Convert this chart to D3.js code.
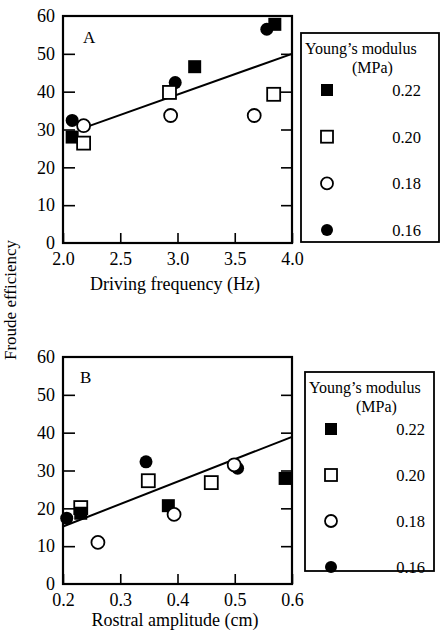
<!DOCTYPE html>
<html>
<head>
<meta charset="utf-8">
<script src="https://cdn.jsdelivr.net/npm/d3@7"></script>
<style>
  body { margin: 0; background: #fff; }
  svg { display: block; }
  svg text { font-family: "Liberation Serif", "Times New Roman", "DejaVu Serif", serif; }
</style>
</head>
<body>
<svg id="chart" width="442" height="632"></svg>
<script>
// Young's modulus groups (MPa) and their symbols
const moduli = ["0.22", "0.20", "0.18", "0.16"];
const symbols = ["filledSquare", "openSquare", "openCircle", "filledCircle"];

// Panel A: driving frequency (Hz) vs Froude efficiency
const freqA = {
  "0.22": [2.08, 3.15, 3.85],
  "0.20": [2.18, 2.93, 3.84],
  "0.18": [2.18, 2.94, 3.67],
  "0.16": [2.08, 2.98, 3.78]
};
const effA = {
  "0.22": [28.0, 46.6, 57.8],
  "0.20": [26.4, 39.8, 39.3],
  "0.18": [31.0, 33.7, 33.7],
  "0.16": [32.4, 42.4, 56.5]
};
const fitFreqA = [2.17, 4.0];
const fitEffA = [30.3, 50.0];

// Panel B: rostral amplitude (cm) vs Froude efficiency
const ampB = {
  "0.22": [0.231, 0.384, 0.588],
  "0.20": [0.231, 0.349, 0.459],
  "0.18": [0.261, 0.394, 0.499],
  "0.16": [0.2065, 0.345, 0.505]
};
const effB = {
  "0.22": [18.7, 20.7, 27.9],
  "0.20": [20.2, 27.3, 26.8],
  "0.18": [11.0, 18.4, 31.5],
  "0.16": [17.4, 32.3, 30.6]
};
const fitAmpB = [0.2, 0.6];
const fitEffB = [15.2, 38.9];

const ticksXA = [2.0, 2.5, 3.0, 3.5, 4.0];
const ticksXB = [0.2, 0.3, 0.4, 0.5, 0.6];
const ticksY = [0, 10, 20, 30, 40, 50, 60];

const svg = d3.select("#chart");

function drawSymbol(g, type, x, y, size) {
  const filled = type.startsWith("filled");
  if (type.endsWith("Square")) {
    g.append("rect")
      .attr("x", x - size / 2)
      .attr("y", y - size / 2)
      .attr("width", size)
      .attr("height", size)
      .attr("fill", filled ? "#000" : "#fff")
      .attr("stroke", "#000")
      .attr("stroke-width", filled ? 0 : 1.8);
  } else {
    g.append("circle")
      .attr("cx", x)
      .attr("cy", y)
      .attr("r", size / 2)
      .attr("fill", filled ? "#000" : "#fff")
      .attr("stroke", "#000")
      .attr("stroke-width", filled ? 0 : 1.8);
  }
}

function serif(sel, size) {
  sel.attr("font-family", "'Liberation Serif', 'Times New Roman', serif")
    .attr("font-size", size)
    .attr("fill", "#000");
}

function drawPanel(p) {
  const g = svg.append("g");
  const x = d3.scaleLinear().domain(p.xDomain).range([p.left, p.right]);
  const y = d3.scaleLinear().domain([0, 60]).range([p.bottom, p.top]);

  // left axis, ticks pointing in
  g.append("g")
    .attr("transform", `translate(${p.left},0)`)
    .call(d3.axisLeft(y).tickValues(ticksY).tickSizeInner(-12).tickSizeOuter(0).tickPadding(8))
    .call(a => a.select(".domain").remove())
    .call(a => a.selectAll("line").filter(d => d === 0 || d === 60).remove())
    .call(a => a.selectAll("line").attr("stroke-width", 1.6))
    .call(a => serif(a.selectAll("text"), 18))
    .call(a => a.attr("font-family", null).attr("font-size", null));

  // right side ticks
  g.append("g")
    .attr("transform", `translate(${p.right},0)`)
    .call(d3.axisRight(y).tickValues(ticksY.slice(1, -1)).tickSizeInner(-11).tickSizeOuter(0).tickFormat(""))
    .call(a => a.select(".domain").remove())
    .call(a => a.selectAll("line").attr("stroke-width", 1.6));

  // bottom axis
  g.append("g")
    .attr("transform", `translate(0,${p.bottom})`)
    .call(d3.axisBottom(x).tickValues(p.xTicks).tickSizeInner(-10).tickSizeOuter(0).tickPadding(9).tickFormat(p.fmt))
    .call(a => a.select(".domain").remove())
    .call(a => a.selectAll("line").attr("stroke-width", 1.6))
    .call(a => serif(a.selectAll("text"), 18))
    .call(a => a.attr("font-family", null).attr("font-size", null));

  // frame
  g.append("rect")
    .attr("x", p.left).attr("y", p.top)
    .attr("width", p.right - p.left).attr("height", p.bottom - p.top)
    .attr("fill", "none").attr("stroke", "#000").attr("stroke-width", 2.2);

  // regression line
  g.append("line")
    .attr("x1", x(p.fitX[0])).attr("y1", y(p.fitY[0]))
    .attr("x2", x(p.fitX[1])).attr("y2", y(p.fitY[1]))
    .attr("stroke", "#000").attr("stroke-width", 2);

  // points
  p.order.forEach(m => {
    const type = symbols[moduli.indexOf(m)];
    p.xs[m].forEach((v, i) => drawSymbol(g, type, x(v), y(p.ys[m][i]), 13));
  });

  g.append("text")
    .attr("x", p.left + p.tagDx).attr("y", p.top + p.tagDy)
    .call(serif, 17)
    .text(p.tag);

  g.append("text")
    .attr("x", (p.left + p.right) / 2 - 2.5).attr("y", p.xLabelY)
    .attr("text-anchor", "middle")
    .call(serif, 18)
    .text(p.xLabel);

  // legend
  const L = p.legend;
  const lg = svg.append("g");
  lg.append("rect")
    .attr("x", L.x0).attr("y", L.y0)
    .attr("width", L.x1 - L.x0).attr("height", L.y1 - L.y0)
    .attr("fill", "#fff").attr("stroke", "#000").attr("stroke-width", 1.8);
  lg.append("text")
    .attr("x", L.x0 + 4).attr("y", L.y0 + 21)
    .call(serif, 16)
    .text("Young\u2019s modulus");
  lg.append("text")
    .attr("x", L.x0 + 51).attr("y", L.y0 + 40)
    .call(serif, 16)
    .text("(MPa)");
  moduli.forEach((m, i) => {
    const cy = L.rowY + i * L.rowStep;
    drawSymbol(lg, symbols[i], L.x0 + 26, cy, 12);
    lg.append("text")
      .attr("x", L.x0 + 120).attr("y", cy + 6)
      .attr("text-anchor", "end")
      .call(serif, 16.5)
      .text(m);
  });
}

drawPanel({
  left: 63, right: 292, top: 16, bottom: 243,
  xDomain: [2, 4], xTicks: ticksXA, fmt: d3.format(".1f"),
  xs: freqA, ys: effA, fitX: fitFreqA, fitY: fitEffA,
  order: ["0.16", "0.22", "0.20", "0.18"],
  tag: "A", tagDx: 20, tagDy: 27,
  xLabel: "Driving frequency (Hz)", xLabelY: 290,
  legend: { x0: 301, y0: 33, x1: 439, y1: 242, rowY: 90, rowStep: 46.7 }
});

drawPanel({
  left: 63, right: 292, top: 357, bottom: 584,
  xDomain: [0.2, 0.6], xTicks: ticksXB, fmt: d3.format(".1f"),
  xs: ampB, ys: effB, fitX: fitAmpB, fitY: fitEffB,
  order: ["0.16", "0.20", "0.22", "0.18"],
  tag: "B", tagDx: 17, tagDy: 26,
  xLabel: "Rostral amplitude (cm)", xLabelY: 626,
  legend: { x0: 305, y0: 372, x1: 434, y1: 571, rowY: 429, rowStep: 46 }
});

svg.append("text")
  .attr("transform", "translate(16,300) rotate(-90)")
  .attr("text-anchor", "middle")
  .call(serif, 17)
  .text("Froude efficiency");
</script>
</body>
</html>
